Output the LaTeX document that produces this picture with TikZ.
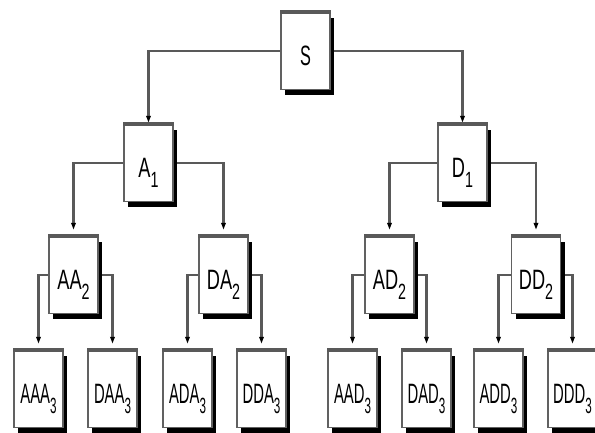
\documentclass[tikz,border=0pt]{standalone}
\usepackage{fontspec}
\setmainfont{Liberation Sans}
\usepackage{graphicx}
\usetikzlibrary{arrows.meta,shadows,backgrounds}

% condensed label with a deep subscript; optional argument = horizontal squeeze
\newcommand{\blocklabel}[3][0.65]{\scalebox{#1}[1]{#2\raisebox{-10pt}{\fontsize{22}{22}\selectfont #3}}}

\begin{document}
\begin{tikzpicture}[x=1pt,y=-1pt,
  block/.style={draw=black!62, line width=1.5pt, fill=white,
    minimum width=49pt, minimum height=77pt, inner sep=0pt,
    text height=28pt, text depth=0pt,
    font=\fontsize{28}{28}\selectfont,
    drop shadow={shadow xshift=4pt, shadow yshift=-5pt, fill=black, opacity=1}},
  topbar/.style={draw=black!65, line width=4pt},
  link/.style={draw=black!65, line width=2.2pt,
    -{Triangle[length=7pt,width=4.5pt,color=black]}, shorten >=6pt},
  firstlink/.style={link, shorten >=1pt},
]
\clip (0,0) rectangle (595,432);

% level 0
\node[block] (S) at (305.5,51) {\scalebox{0.58}[1]{S}};
% level 1
\node[block] (A1) at (148.5,163) {\blocklabel{A}{1}};
\node[block] (D1) at (462.5,163) {\blocklabel{D}{1}};
% level 2
\node[block] (AA2) at (73.5,275) {\blocklabel{AA}{2}};
\node[block] (DA2) at (223.5,275) {\blocklabel{DA}{2}};
\node[block] (AD2) at (389.5,275) {\blocklabel{AD}{2}};
\node[block] (DD2) at (536,275) {\blocklabel{DD}{2}};
% level 3
\node[block] (AAA3) at (38.5,389) {\blocklabel[0.53]{AAA}{3}};
\node[block] (DAA3) at (112.5,389) {\blocklabel[0.53]{DAA}{3}};
\node[block] (ADA3) at (187.5,389) {\blocklabel[0.53]{ADA}{3}};
\node[block] (DDA3) at (261.5,389) {\blocklabel[0.53]{DDA}{3}};
\node[block] (AAD3) at (352.5,389) {\blocklabel[0.53]{AAD}{3}};
\node[block] (DAD3) at (426.5,389) {\blocklabel[0.53]{DAD}{3}};
\node[block] (ADD3) at (498.5,389) {\blocklabel[0.53]{ADD}{3}};
\node[block] (DDD3) at (572.5,389) {\blocklabel[0.53]{DDD}{3}};

% heavy top edge of every block
\foreach \n in {S,A1,D1,AA2,DA2,AD2,DD2,AAA3,DAA3,ADA3,DDA3,AAD3,DAD3,ADD3,DDD3}
  \draw[topbar] (\n.north west) -- (\n.north east);

% connectors, kept behind the blocks and their shadows
\begin{scope}[on background layer]
  \draw[firstlink] (S.west) -| (A1.north);
  \draw[firstlink] (S.east) -| (D1.north);
  \draw[link] (A1.west) -| (AA2.north);
  \draw[link] (A1.east) -| (DA2.north);
  \draw[link] (D1.west) -| (AD2.north);
  \draw[link] (D1.east) -| (DD2.north);
  \draw[link] (AA2.west) -| (AAA3.north);
  \draw[link] (AA2.east) -| (DAA3.north);
  \draw[link] (DA2.west) -| (ADA3.north);
  \draw[link] (DA2.east) -| (DDA3.north);
  \draw[link] (AD2.west) -| (AAD3.north);
  \draw[link] (AD2.east) -| (DAD3.north);
  \draw[link] (DD2.west) -| (ADD3.north);
  \draw[link] (DD2.east) -| (DDD3.north);
\end{scope}
\end{tikzpicture}
\end{document}
